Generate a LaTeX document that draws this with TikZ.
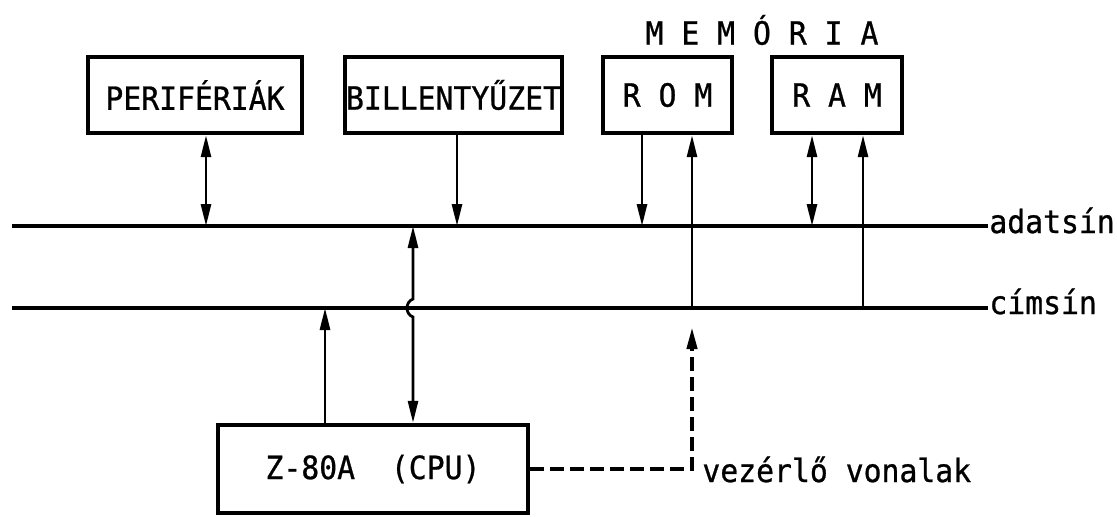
\documentclass[tikz,border=0pt]{standalone}
\usepackage{fontspec}
\setmonofont[FakeStretch=0.93, FakeBold=0.8]{DejaVu Sans Mono}
\usetikzlibrary{arrows.meta, positioning, calc}
\tikzset{
  every picture/.style={font=\ttfamily\fontsize{16pt}{19pt}\selectfont, line width=1.4pt},
  box/.style={draw, line width=2.2pt, inner sep=0pt, minimum width=#1, minimum height=38pt},
  arrow/.style={-{Triangle[length=11pt, width=5pt]}},
  dblarrow/.style={{Triangle[length=11pt, width=5pt]}-{Triangle[length=11pt, width=5pt]}},
  ctlline/.style={line width=2pt, dash pattern=on 7pt off 3pt},
  bus/.style={line width=1.8pt},
  lbl/.style={anchor=base west, inner sep=0pt},
}

\begin{document}
\begin{tikzpicture}[x=0.5pt, y=-0.5pt]
  \useasboundingbox (0,0) rectangle (1117,516);
  % units
  \node[box=107pt] (peri) at (195,95) {PERIFÉRIÁK};
  \node[box=108.5pt] (bill) at (453.5,95) {BILLENTYŰZET};
  \node[box=64.5pt] (rom) at (667.5,95) {R O M};
  \node[box=65pt] (ram) at (837,95) {R A M};
  \node (mem) at (762,30) {M E M Ó R I A};
  \node[box=155pt, minimum height=44pt] (cpu) at (373,469) {Z-80A\ \ (CPU)};
  % buses
  \coordinate (adL) at (12,226);
  \coordinate (cimL) at (12,308);
  \node[lbl] (adat) at (988,233) {adatsín};
  \node[lbl] (cim) at (988,314) {címsín};
  \draw[bus] (adL) -- (adL -| adat.west);
  \draw[bus] (cimL) -- (cimL -| cim.west);
  % taps on the data bus
  \coordinate (dPeri) at (206,226);
  \coordinate (dBill) at (457,226);
  \coordinate (dRom) at (642,226);
  \coordinate (dRam) at (812,226);
  \coordinate (dCpu) at (413,226);
  % taps on the address bus
  \coordinate (aRom) at (692,308);
  \coordinate (aRam) at (863,308);
  \coordinate (aCpu) at (325,308);
  \draw[dblarrow] (peri.south -| dPeri) -- (dPeri);
  \draw[arrow] (bill.south -| dBill) -- (dBill);
  \draw[arrow] (rom.south -| dRom) -- (dRom);
  \draw[arrow] (aRom) -- (rom.south -| aRom);
  \draw[dblarrow] (ram.south -| dRam) -- (dRam);
  \draw[arrow] (aRam) -- (ram.south -| aRam);
  \draw[arrow] (cpu.north -| aCpu) -- (aCpu);
  \draw[dblarrow] (dCpu) -- ($(dCpu |- aCpu)+(0,-9)$) .. controls +(-8,3) and +(-8,-3) .. ($(dCpu |- aCpu)+(0,9)$) -- (cpu.north -| dCpu);
  % control lines
  \draw[ctlline, arrow] (cpu.east) -- (cpu.east -| aRom) -- ($(aRom)+(0,19)$);
  \node[lbl] (ctl) at (701,482) {vezérlő vonalak};
\end{tikzpicture}
\end{document}
